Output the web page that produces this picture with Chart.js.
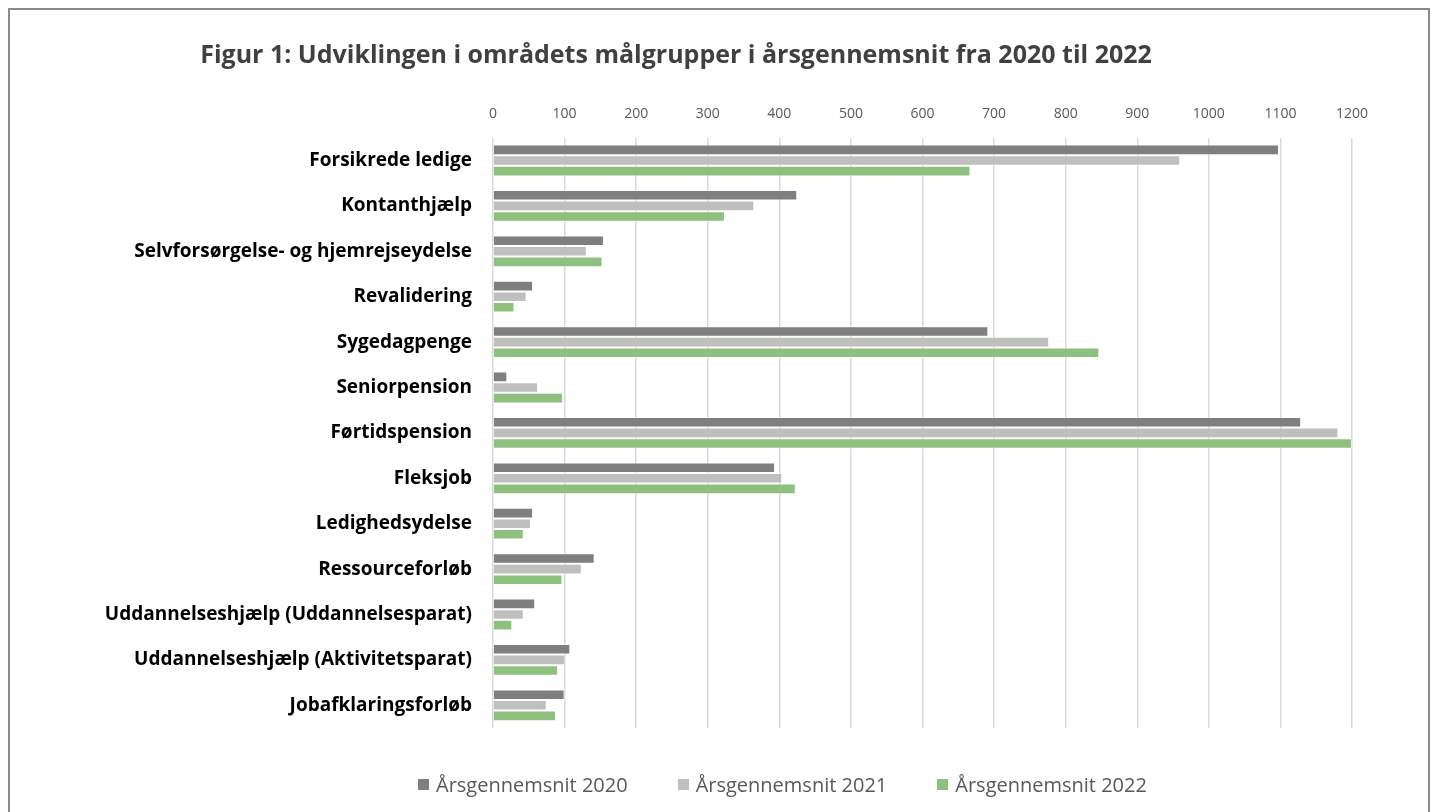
<!DOCTYPE html>
<html>
<head>
<meta charset="utf-8">
<script src="https://cdn.jsdelivr.net/npm/chart.js@4"></script>
<style>
  html, body { margin: 0; padding: 0; background: #fff; overflow: hidden; }
  #frame { position: absolute; left: 8px; top: 8px; width: 1418px; height: 900px; border: 2px solid #8a8a8a; }
  #wrap { position: absolute; left: 0; top: 0; width: 1434px; height: 812px; }
  #legend { position: absolute; left: 418px; top: 771px; display: flex; gap: 50px;
            font-family: 'Open Sans', sans-serif; font-size: 20px; color: #595959; }
  #legend span.item { display: flex; align-items: center; }
  #legend span.box { width: 11px; height: 11px; margin-right: 7px; display: inline-block; }
</style>
</head>
<body>
<div id="frame"></div>
<div id="wrap"><canvas id="chart" width="1434" height="812"></canvas></div>
<div id="legend"></div>
<script>
document.addEventListener('DOMContentLoaded', function () {
    const categories = [
        'Forsikrede ledige', 'Kontanthjælp', 'Selvforsørgelse- og hjemrejseydelse', 'Revalidering',
        'Sygedagpenge', 'Seniorpension', 'Førtidspension', 'Fleksjob', 'Ledighedsydelse',
        'Ressourceforløb', 'Uddannelseshjælp (Uddannelsesparat)', 'Uddannelseshjælp (Aktivitetsparat)',
        'Jobafklaringsforløb'
    ];
    const seriesNames = ['Årsgennemsnit 2020', 'Årsgennemsnit 2021', 'Årsgennemsnit 2022'];
    const seriesColors = ['#7f7f7f', '#bfbfbf', '#8ec180'];

    const values2020 = [1098, 425, 155, 56, 692, 20, 1129, 394, 56, 142, 59, 108, 100];
    const values2021 = [960, 365, 131, 47, 777, 63, 1181, 404, 53, 124, 43, 101, 75];
    const values2022 = [667, 324, 153, 30, 847, 98, 1200, 423, 43, 97, 27, 91, 88];
    const allValues = [values2020, values2021, values2022];

    const font = "'Open Sans', sans-serif";

    new Chart(document.getElementById('chart'), {
        type: 'bar',
        data: {
            labels: categories,
            datasets: seriesNames.map((name, i) => ({
                label: name,
                data: allValues[i],
                backgroundColor: seriesColors[i],
                borderColor: 'rgba(255,255,255,0.5)',
                borderWidth: 1,
                categoryPercentage: 0.7,
                barPercentage: 1.0
            }))
        },
        options: {
            indexAxis: 'y',
            responsive: false,
            animation: false,
            layout: { padding: { left: 0, right: 82, top: 0, bottom: 84 } },
            plugins: {
                legend: { display: false },
                tooltip: { enabled: false },
                title: {
                    display: true,
                    text: 'Figur 1: Udviklingen i områdets målgrupper i årsgennemsnit fra 2020 til 2022',
                    color: '#404040',
                    font: { family: font, size: 25, weight: 'bold' },
                    padding: { top: 41, bottom: 20 }
                }
            },
            scales: {
                x: {
                    position: 'top',
                    min: 0,
                    max: 1200,
                    ticks: {
                        stepSize: 100, color: '#595959', font: { family: font, size: 14 }, padding: 15,
                        callback: v => String(v)
                    },
                    grid: { color: '#d9d9d9', lineWidth: 1.5, drawTicks: false },
                    border: { display: false }
                },
                y: {
                    ticks: { color: '#000', font: { family: font, size: 19, weight: 'bold' }, padding: 21 },
                    grid: { display: false, drawTicks: false },
                    border: { display: false },
                    afterFit: function (scale) { scale.width = 493; }
                }
            }
        }
    });

    // legend built from the series arrays
    const legend = document.getElementById('legend');
    seriesNames.forEach((name, i) => {
        const item = document.createElement('span');
        item.className = 'item';
        item.innerHTML = '<span class="box" style="background:' + seriesColors[i] + '"></span>' + name;
        legend.appendChild(item);
    });
});
</script>
</body>
</html>
